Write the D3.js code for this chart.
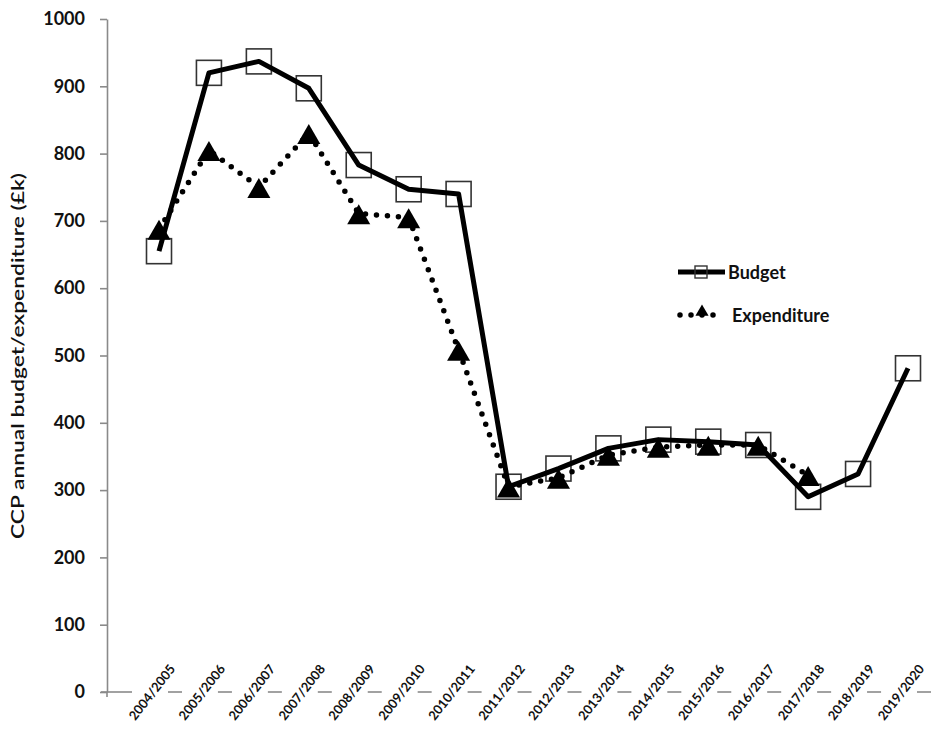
<!DOCTYPE html>
<html>
<head>
<meta charset="utf-8">
<script src="https://cdn.jsdelivr.net/npm/d3@7"></script>
<style>
  body { margin: 0; background: #fff; }
  svg { display: block; font-family: Lato, "Open Sans", sans-serif; }
</style>
</head>
<body>
<div id="chart"></div>
<script>
const years = ["2004/2005", "2005/2006", "2006/2007", "2007/2008", "2008/2009", "2009/2010",
  "2010/2011", "2011/2012", "2012/2013", "2013/2014", "2014/2015", "2015/2016",
  "2016/2017", "2017/2018", "2018/2019", "2019/2020"]
const budget = [655, 920, 937, 897, 783, 747, 740, 305, 332, 362, 375, 372, 367, 290, 324, 481]
const expenditure = [688, 805, 750, 830, 711, 705, 508, 305, 318, 352, 364, 367, 367, 322, null, null]
const yTicks = [0, 100, 200, 300, 400, 500, 600, 700, 800, 900, 1000]

const width = 934, height = 734

let svg = d3.select("#chart")
    .append("svg")
    .attr("width", width)
    .attr("height", height)

let x = d3.scalePoint()
    .domain(years)
    .range([159, 908])

let y = d3.scaleLinear()
    .domain([0, 1000])
    .range([692, 19])

const axisX = 107

// y axis
let yAxis = svg.append("g")
    .attr("transform", "translate(" + axisX + ",0)")
    .call(d3.axisLeft(y).tickValues(yTicks).tickFormat(d3.format("d"))
        .tickSize(7).tickPadding(15).tickSizeOuter(0))
yAxis.select(".domain").attr("stroke", "#8a8a8a").attr("stroke-width", 1.6)
yAxis.selectAll(".tick line").attr("stroke", "#8a8a8a").attr("stroke-width", 1.6)
yAxis.selectAll(".tick text")
    .attr("font-size", 18)
    .attr("font-weight", "bold")
    .attr("fill", "#111")
    .style("font-family", "Lato, sans-serif")

// little stub below the origin
svg.append("line")
    .attr("x1", axisX).attr("x2", axisX)
    .attr("y1", y(0)).attr("y2", y(0) + 5)
    .attr("stroke", "#8a8a8a").attr("stroke-width", 1.6)

// x axis (dashed, broken by the labels)
let xa = svg.append("g").attr("stroke", "#8a8a8a").attr("stroke-width", 1.6)
xa.append("line")
    .attr("x1", axisX - 6).attr("x2", x(years[0]) - 27)
    .attr("y1", y(0)).attr("y2", y(0))
xa.selectAll(".dash")
    .data(years)
    .join("line")
    .attr("class", "dash")
    .attr("x1", d => x(d) + 9)
    .attr("x2", d => Math.min(x(d) + 23, width))
    .attr("y1", y(0)).attr("y2", y(0))

svg.append("g")
    .selectAll("text")
    .data(years)
    .join("text")
    .attr("transform", d => "translate(" + (x(d) + 17) + "," + 669 + ")rotate(-52)")
    .attr("text-anchor", "end")
    .attr("font-size", 13)
    .attr("font-weight", "bold")
    .attr("fill", "#111")
    .text(d => d)

// y label
svg.append("text")
    .attr("transform", "translate(24,356)rotate(-90)")
    .attr("text-anchor", "middle")
    .attr("font-size", 18)
    .attr("font-weight", 600)
    .attr("fill", "#111")
    .attr("textLength", 366)
    .attr("lengthAdjust", "spacingAndGlyphs")
    .text("CCP annual budget/expenditure (£k)")

let budgetData = years.map((d, i) => ({year: d, value: budget[i]}))
let expData = years.map((d, i) => ({year: d, value: expenditure[i]})).filter(d => d.value != null)

let line = d3.line()
    .x(d => x(d.year))
    .y(d => y(d.value))

const sq = 25

// square markers
svg.append("g")
    .selectAll("rect")
    .data(budgetData)
    .join("rect")
    .attr("x", d => x(d.year) - sq / 2)
    .attr("y", d => y(d.value) - sq / 2)
    .attr("width", sq)
    .attr("height", sq)
    .attr("fill", "none")
    .attr("stroke", "#333")
    .attr("stroke-width", 1.6)

// triangle markers
svg.append("g")
    .selectAll("path")
    .data(expData)
    .join("path")
    .attr("transform", d => "translate(" + x(d.year) + "," + (y(d.value) + 4) + ")")
    .attr("d", d3.symbol(d3.symbolTriangle, 230))
    .attr("fill", "#000")

svg.append("path")
    .datum(expData)
    .attr("d", line)
    .attr("fill", "none")
    .attr("stroke", "#000")
    .attr("stroke-width", 5.5)
    .attr("stroke-linecap", "round")
    .attr("stroke-dasharray", "0,11")

svg.append("path")
    .datum(budgetData)
    .attr("d", line)
    .attr("fill", "none")
    .attr("stroke", "#000")
    .attr("stroke-width", 5)
    .attr("stroke-linejoin", "round")

// legend
let legend = svg.append("g")
legend.append("line")
    .attr("x1", 678).attr("x2", 725).attr("y1", 272).attr("y2", 272)
    .attr("stroke", "#000").attr("stroke-width", 5)
legend.append("rect")
    .attr("x", 695).attr("y", 266).attr("width", 12).attr("height", 12)
    .attr("fill", "none").attr("stroke", "#333").attr("stroke-width", 1.4)
legend.append("text")
    .attr("x", 728).attr("y", 279)
    .attr("font-size", 18).attr("font-weight", "bold").attr("fill", "#111")
    .text("Budget")

legend.append("line")
    .attr("x1", 680).attr("x2", 724).attr("y1", 315).attr("y2", 315)
    .attr("stroke", "#000").attr("stroke-width", 5.5)
    .attr("stroke-linecap", "round").attr("stroke-dasharray", "0,11")
legend.append("path")
    .attr("transform", "translate(702,312)")
    .attr("d", d3.symbol(d3.symbolTriangle, 75))
    .attr("fill", "#000")
legend.append("text")
    .attr("x", 732).attr("y", 322)
    .attr("font-size", 18).attr("font-weight", "bold").attr("fill", "#111")
    .text("Expenditure")
</script>
</body>
</html>
